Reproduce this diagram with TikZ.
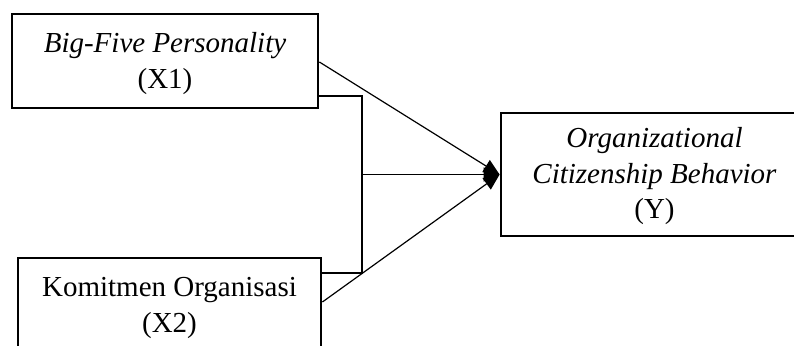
\documentclass[tikz,border=0pt]{standalone}
\usepackage{fontspec}
\setmainfont{Liberation Serif}
\usetikzlibrary{arrows.meta}
\begin{document}
\begin{tikzpicture}[x=1pt,y=-1pt,
  box/.style={draw, line width=2.8pt, minimum width=306pt, align=center, inner sep=0pt,
    font=\fontsize{29}{35.5}\selectfont},
  conn/.style={line width=1.2pt},
  arr/.style={conn, -{Triangle[length=16pt,width=14pt]}}]
\clip (0,0) rectangle (794,345);
\useasboundingbox (0,0) rectangle (794,345);
\fill[white] (0,0) rectangle (794,345);
\node[box, minimum height=94pt] (b1) at (165,61)
  {\rule{0pt}{25pt}\textit{Big-Five Personality}\\(X1)};
\node[box, minimum width=303pt, minimum height=94pt] (b2) at (169.5,305)
  {\rule{0pt}{25pt}Komitmen Organisasi\\(X2)};
\node[box, minimum width=307pt, minimum height=123pt] (y) at (654.5,174.5)
  {\rule{0pt}{24pt}\textit{Organizational}\\\textit{Citizenship Behavior}\\(Y)};
\coordinate (jt) at (362,96);
\coordinate (jb) at (362,273);
\coordinate (jm) at (362,174.5);
\draw[conn] (b1.east |- jt) -- (jt) -- (jb) -- (b2.east |- jb);
\draw[arr] (b1.east |- 0,62) -- (y.west);
\draw[arr] (jm) -- (y.west);
\draw[arr] (b2.east |- 0,302) -- (y.west);
\end{tikzpicture}
\end{document}
